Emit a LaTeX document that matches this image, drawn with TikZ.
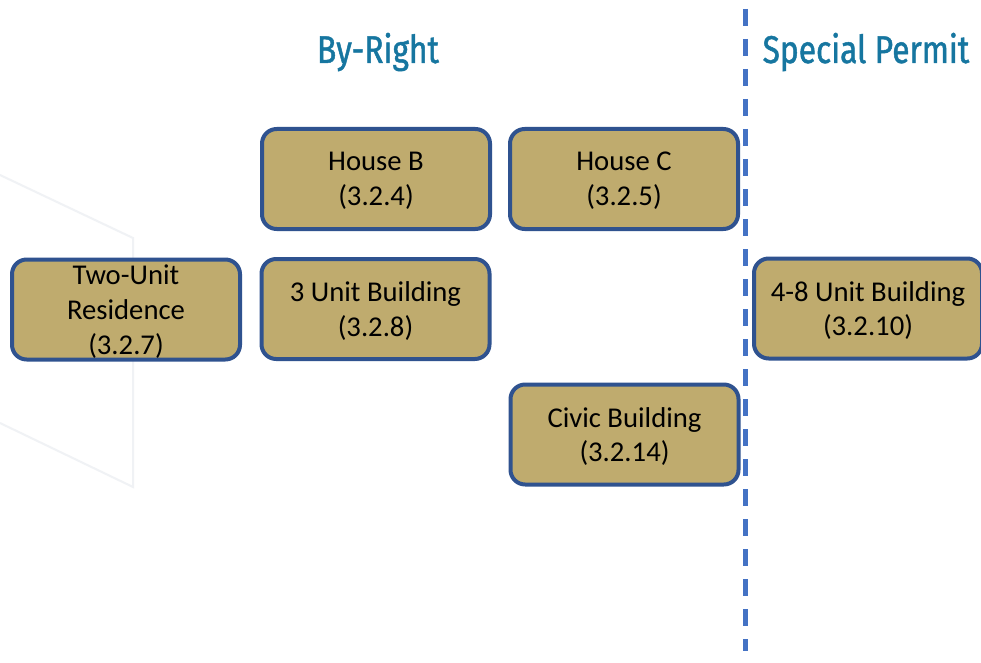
\documentclass[tikz,border=0pt]{standalone}
\usepackage{fontspec}
\setmainfont{Carlito}
\newfontfamily\titlefont[FakeStretch=0.82,FakeBold=1.2]{Fira Sans}
\definecolor{boxfill}{RGB}{191,171,110}
\definecolor{boxline}{RGB}{47,82,143}
\definecolor{dashblue}{RGB}{68,114,196}
\definecolor{titleteal}{RGB}{22,118,160}
\definecolor{faint}{RGB}{240,242,245}
\tikzset{
  unitbox/.style={draw=boxline, fill=boxfill, line width=3pt, rounded corners=11pt,
    minimum width=171pt, minimum height=75pt, inner sep=0pt, align=center,
    text depth=0pt, font=\fontsize{21.5}{26}\selectfont, text=black},
  heading/.style={anchor=base, text=titleteal, font=\titlefont\fontsize{29}{34}\selectfont, inner sep=0pt},
  divider/.style={draw=dashblue, line width=3.4pt, dash pattern=on 12.75pt off 9.75pt},
  bgline/.style={draw=faint, line width=1.5pt}
}
\begin{document}
\begin{tikzpicture}[x=0.75pt,y=-0.75pt]
\useasboundingbox (0,0) rectangle (981,663);
\clip (0,0) rectangle (981,663);
\fill[white] (0,0) rectangle (981,663);
% faint background shape
\coordinate (f1) at (0,175);
\coordinate (f2) at (133,238);
\coordinate (f3) at (133,487);
\coordinate (f4) at (0,423);
\draw[bgline] (f1) -- (f2) -- (f3) -- (f4);
% divider
\coordinate (dtop) at (745.5,9);
\coordinate (dbot) at (745.5,651);
\draw[divider] (dtop) -- (dbot);
% headings
\node[heading] (byright) at (378,63) {By-Right};
\node[heading] (special) at (866,63) {Special Permit};
% boxes
\node[unitbox] (houseb) at (376,179) {House B\\(3.2.4)};
\node[unitbox] (housec) at (624,179) {House C\\(3.2.5)};
\node[unitbox] (twounit) at (126,309.5) {Two-Unit\\Residence\\(3.2.7)};
\node[unitbox] (threeunit) at (375.5,309) {3 Unit Building\\(3.2.8)};
\node[unitbox] (fourunit) at (868,308.5) {4-8 Unit Building\\(3.2.10)};
\node[unitbox] (civic) at (624.5,434.5) {Civic Building\\(3.2.14)};
\end{tikzpicture}
\end{document}
